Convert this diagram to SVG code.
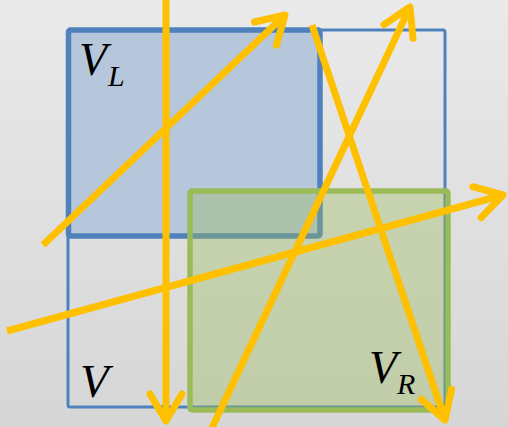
<svg xmlns="http://www.w3.org/2000/svg" width="508" height="427" viewBox="0 0 508 427">
<defs>
<linearGradient id="bg" x1="0" y1="0" x2="0" y2="1">
<stop offset="0" stop-color="#eaeaea"/>
<stop offset="1" stop-color="#d6d6d6"/>
</linearGradient>
<marker id="head" markerUnits="userSpaceOnUse" orient="auto" refX="0" refY="0" markerWidth="60" markerHeight="60" viewBox="-40 -30 60 60" overflow="visible">
<path d="M-27 -16 L0 0 L-27 16" fill="none" stroke="#ffc000" stroke-width="7" stroke-linecap="round" stroke-linejoin="round"/>
</marker>
<style>
.lbl{font-family:"Liberation Serif","DejaVu Serif",serif;font-style:italic;fill:#000}
.arr{fill:none;stroke:#ffc000;stroke-width:7;marker-end:url(#head)}
</style>
</defs>
<rect width="508" height="427" fill="url(#bg)"/>
<g id="V">
<rect x="68" y="30" width="377" height="377" rx="2" fill="none" stroke="#4f81bd" stroke-width="3"/>
<text class="lbl" x="80" y="397" font-size="47">V</text>
</g>
<g id="VL">
<rect x="68.5" y="30" width="251.5" height="206" rx="2" fill="#b6c7db" stroke="#4f81bd" stroke-width="5.5"/>
<text class="lbl" x="79" y="75" font-size="46">V</text>
<text class="lbl" x="108" y="86" font-size="30">L</text>
</g>
<g id="VR">
<rect x="190" y="191" width="258" height="219" rx="2" fill="#9bbb59" fill-opacity="0.36" stroke="#9bbb59" stroke-width="5.5"/>
<text class="lbl" x="369" y="383" font-size="46">V</text>
<text class="lbl" x="397" y="394" font-size="30">R</text>
</g>
<g id="connectors">
<path class="arr" d="M166 0 L166 421"/>
<path class="arr" d="M43 245 L285 15"/>
<path class="arr" d="M312 25 L445 420"/>
<path class="arr" d="M211 430 L410 7"/>
<path class="arr" d="M7 331 L503 195"/>
</g>
</svg>
